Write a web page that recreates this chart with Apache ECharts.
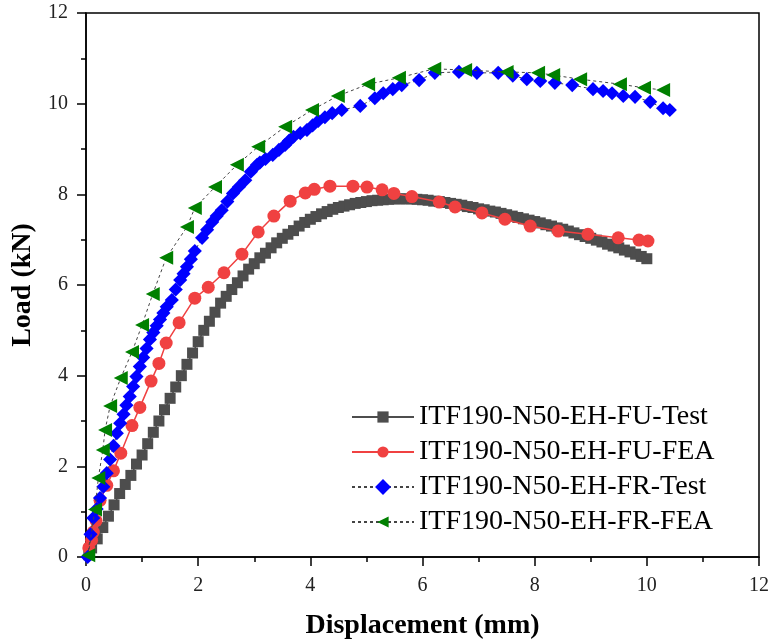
<!DOCTYPE html>
<html>
<head>
<meta charset="utf-8">
<script src="https://cdn.jsdelivr.net/npm/echarts@6/dist/echarts.min.js"></script>
<style>html,body{margin:0;padding:0;background:#fff}#c{width:774px;height:644px}</style>
</head>
<body>
<div id="c"></div>
<script>
var seriesNames = ['ITF190-N50-EH-FU-Test','ITF190-N50-EH-FU-FEA','ITF190-N50-EH-FR-Test','ITF190-N50-EH-FR-FEA'];
var xTicks = [0,2,4,6,8,10,12];
var yTicks = [0,2,4,6,8,10,12];

var fuTest = [[0.05,0.05],[0.1,0.2],[0.2,0.4],[0.3,0.65],[0.4,0.9],[0.5,1.15],[0.6,1.4],[0.7,1.6],[0.8,1.8],[0.9,2.05],
[1.0,2.25],[1.1,2.5],[1.2,2.75],[1.3,3.0],[1.4,3.25],[1.5,3.5],[1.6,3.75],[1.7,4.0],[1.8,4.25],[1.9,4.5],
[2.0,4.75],[2.1,5.0],[2.2,5.2],[2.3,5.4],[2.4,5.6],[2.5,5.75],[2.6,5.9],[2.7,6.05],[2.8,6.2],[2.9,6.35],
[3.0,6.47],[3.1,6.6],[3.2,6.7],[3.3,6.82],[3.4,6.93],[3.5,7.03],[3.6,7.12],[3.7,7.2],[3.8,7.3],[3.9,7.38],
[4.0,7.45],[4.1,7.51],[4.2,7.57],[4.3,7.62],[4.4,7.67],[4.5,7.71],[4.6,7.74],[4.7,7.77],[4.8,7.8],[4.9,7.82],
[5.0,7.84],[5.1,7.86],[5.2,7.87],[5.3,7.88],[5.4,7.89],[5.5,7.9],[5.6,7.9],[5.7,7.9],[5.8,7.9],[5.9,7.89],
[6.0,7.88],[6.1,7.87],[6.2,7.85],[6.3,7.84],[6.4,7.82],[6.5,7.8],[6.6,7.78],[6.7,7.76],[6.8,7.73],[6.9,7.71],
[7.0,7.68],[7.1,7.66],[7.2,7.63],[7.3,7.61],[7.4,7.58],[7.5,7.55],[7.6,7.52],[7.7,7.49],[7.8,7.46],[7.9,7.43],
[8.0,7.4],[8.1,7.37],[8.2,7.33],[8.3,7.3],[8.4,7.26],[8.5,7.23],[8.6,7.19],[8.7,7.15],[8.8,7.11],[8.9,7.07],
[9.0,7.03],[9.1,6.99],[9.2,6.95],[9.3,6.9],[9.4,6.86],[9.5,6.82],[9.6,6.77],[9.7,6.73],[9.8,6.68],[9.9,6.63],[10.0,6.58]];

var fuFea = [[0.05,0.2],[0.1,0.37],[0.13,0.55],[0.18,0.8],[0.25,1.25],[0.37,1.58],[0.49,1.9],[0.62,2.29],[0.82,2.9],[0.96,3.3],
[1.16,3.88],[1.3,4.27],[1.43,4.72],[1.66,5.17],[1.94,5.71],[2.18,5.95],[2.46,6.27],[2.78,6.68],[3.07,7.17],[3.35,7.52],
[3.64,7.85],[3.91,8.03],[4.07,8.11],[4.35,8.18],[4.76,8.18],[5.01,8.16],[5.28,8.1],[5.49,8.02],[5.81,7.95],[6.3,7.83],
[6.58,7.72],[7.06,7.59],[7.47,7.45],[7.92,7.3],[8.42,7.19],[8.95,7.12],[9.49,7.04],[9.86,6.99],[10.02,6.97]];

var frTest = [[0.03,0.0],[0.08,0.5],[0.13,0.86],[0.19,1.06],[0.25,1.3],[0.31,1.55],[0.37,1.85],[0.43,2.15],[0.49,2.45],[0.55,2.73],
[0.61,2.95],[0.67,3.15],[0.72,3.35],[0.78,3.54],[0.84,3.76],[0.9,3.98],[0.96,4.2],[1.02,4.4],[1.08,4.6],[1.14,4.8],
[1.2,4.95],[1.26,5.1],[1.32,5.24],[1.38,5.38],[1.44,5.52],[1.53,5.67],[1.6,5.9],[1.68,6.11],[1.74,6.25],[1.8,6.4],
[1.87,6.57],[1.94,6.75],[2.07,7.04],[2.16,7.22],[2.25,7.39],[2.33,7.52],[2.42,7.65],[2.52,7.84],[2.62,8.02],[2.73,8.17],
[2.84,8.31],[2.94,8.5],[3.05,8.65],[3.1,8.7],[3.2,8.78],[3.33,8.87],[3.44,8.98],[3.55,9.09],[3.62,9.18],[3.7,9.27],
[3.82,9.35],[3.94,9.42],[4.04,9.52],[4.14,9.62],[4.26,9.7],[4.39,9.79],[4.56,9.86],[4.89,9.95],[5.15,10.12],[5.3,10.23],
[5.47,10.32],[5.63,10.41],[5.94,10.52],[6.22,10.68],[6.65,10.7],[6.97,10.68],[7.35,10.68],[7.61,10.62],[7.86,10.54],[8.1,10.5],
[8.36,10.46],[8.67,10.41],[9.04,10.32],[9.22,10.28],[9.38,10.23],[9.58,10.17],[9.79,10.15],[10.06,10.04],[10.29,9.9],[10.41,9.86]];

var frFea = [[0.04,0.04],[0.16,1.05],[0.22,1.74],[0.3,2.36],[0.34,2.8],[0.43,3.33],[0.62,3.95],[0.82,4.52],[1.0,5.12],[1.19,5.8],
[1.43,6.6],[1.8,7.28],[1.94,7.7],[2.3,8.16],[2.69,8.65],[3.07,9.05],[3.55,9.49],[4.03,9.86],[4.49,10.17],[5.03,10.43],
[5.58,10.57],[6.21,10.77],[6.76,10.74],[7.5,10.7],[8.06,10.68],[8.33,10.63],[8.81,10.54],[9.52,10.43],[9.95,10.35],[10.29,10.3]];

var serif = 'Liberation Serif';
var chart = echarts.init(document.getElementById('c'));
function axisCommon(ticks, name, nameGap, rot) {
  return {
    type: 'value', min: ticks[0], max: ticks[ticks.length-1], interval: ticks[1]-ticks[0],
    name: name, nameLocation: 'middle', nameGap: nameGap, nameRotate: rot,
    nameTextStyle: {fontFamily: serif, fontWeight: 'bold', fontSize: 28, color: '#000'},
    axisLine: {show: true, onZero: false, lineStyle: {color: '#000', width: 1.5}},
    axisTick: {show: true, inside: false, length: 9, lineStyle: {color: '#000', width: 1.5}},
    minorTick: {show: true, splitNumber: 2, length: 5, lineStyle: {color: '#000', width: 1.5}},
    axisLabel: {fontFamily: serif, fontSize: 20, color: '#222', margin: 18},
    splitLine: {show: false}
  };
}
var xAxis = axisCommon(xTicks, 'Displacement (mm)', 55, 0);
xAxis.axisLabel.margin = 19;
var yAxis = axisCommon(yTicks, 'Load (kN)', 46, 90);

chart.setOption({
  animation: false,
  backgroundColor: '#fff',
  grid: {left: 86, right: 15, top: 13, bottom: 87, containLabel: false, outerBoundsMode: 'none',
         show: true, borderColor: '#000', borderWidth: 1.5, backgroundColor: 'transparent'},
  xAxis: xAxis,
  yAxis: yAxis,
  legend: {
    orient: 'vertical', left: 346, top: 398, itemWidth: 62, itemHeight: 14, itemGap: 7,
    textStyle: {fontFamily: serif, fontSize: 28, color: '#000', lineHeight: 28, padding: [0,0,0,0]},
    data: seriesNames
  },
  series: [
    {name: seriesNames[0], type: 'line', data: fuTest, symbol: 'rect', symbolSize: 11,
     itemStyle: {color: '#4d4d4d'}, lineStyle: {color: '#4d4d4d', width: 1.5}, z: 2},
    {name: seriesNames[1], type: 'line', data: fuFea, symbol: 'circle', symbolSize: 13,
     itemStyle: {color: '#f04141'}, lineStyle: {color: '#f04141', width: 1.5}, z: 3},
    {name: seriesNames[2], type: 'line', data: frTest, symbol: 'rect', symbolSize: 10, symbolRotate: 45,
     itemStyle: {color: '#0000ff'}, lineStyle: {color: '#444', width: 1, type: [3,3]}, z: 4},
    {name: seriesNames[3], type: 'line', data: frFea, symbol: 'triangle', symbolSize: 14, symbolRotate: 90,
     itemStyle: {color: '#008000'}, lineStyle: {color: '#444', width: 1, type: [3,3]}, z: 5}
  ]
});
</script>
</body>
</html>
